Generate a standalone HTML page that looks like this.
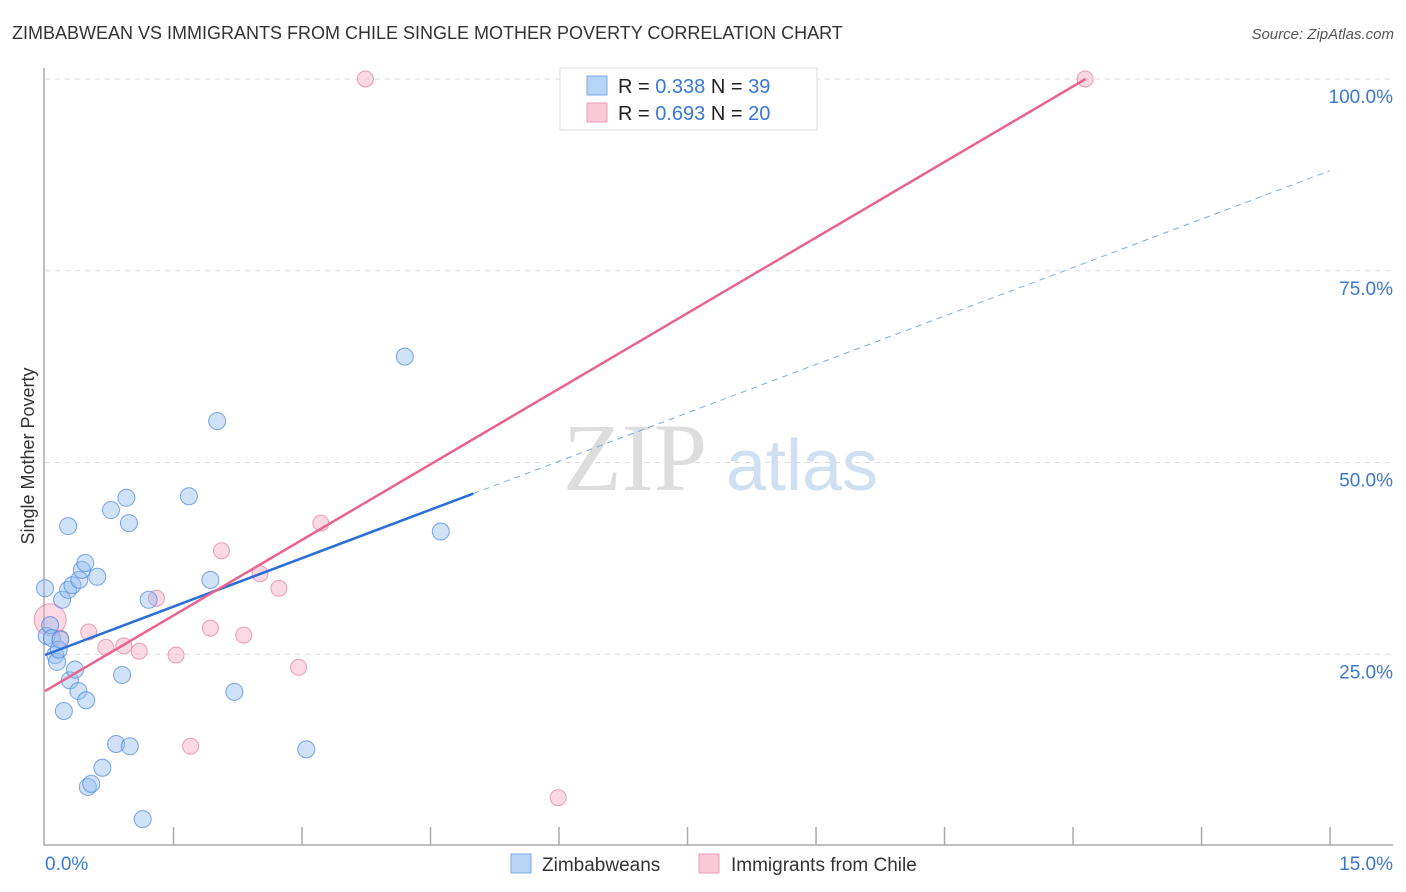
<!DOCTYPE html>
<html><head><meta charset="utf-8"><style>
body{margin:0;background:#fff;font-family:"Liberation Sans",sans-serif}
svg{display:block}
</style></head><body>
<svg id="chart" width="1406" height="892" xmlns="http://www.w3.org/2000/svg">
<text x="12" y="39" font-size="18" fill="#333">ZIMBABWEAN VS IMMIGRANTS FROM CHILE SINGLE MOTHER POVERTY CORRELATION CHART</text>
<text x="1394" y="39" font-size="15" fill="#555" font-style="italic" text-anchor="end">Source: ZipAtlas.com</text>
<g>
<text x="635" y="490" font-size="96" font-family="Liberation Serif,serif" fill="#ddd" text-anchor="middle">ZIP</text>
<text x="802" y="490" font-size="72" fill="#cfe0f3" text-anchor="middle">atlas</text>
</g>
<g id="grid"></g>
<g id="axes"></g>
<g id="marks"></g>
<text transform="translate(34,456) rotate(-90)" font-size="18" fill="#333" text-anchor="middle">Single Mother Poverty</text>
<g>
<rect x="560" y="68" width="257" height="62" fill="#fff" stroke="#ddd"/>
<rect x="587" y="76" width="20" height="19" fill="#b8d4f5" stroke="#7aaae6"/>
<rect x="587" y="103" width="20" height="19" fill="#f9c9d8" stroke="#ec9ab5"/>
<text x="618" y="93" font-size="20" fill="#222">R = <tspan fill="#3a78d4">0.338</tspan>   N = <tspan fill="#3a78d4">39</tspan></text>
<text x="618" y="120" font-size="20" fill="#222">R = <tspan fill="#3a78d4">0.693</tspan>   N = <tspan fill="#3a78d4">20</tspan></text>
</g>
<g>
<rect x="511" y="854" width="20" height="19" fill="#b8d4f5" stroke="#7aaae6"/>
<text x="542" y="871" font-size="19" fill="#333">Zimbabweans</text>
<rect x="699" y="854" width="20" height="19" fill="#f9c9d8" stroke="#ec9ab5"/>
<text x="731" y="871" font-size="19" fill="#333">Immigrants from Chile</text>
</g>
</svg>
<script>
const blueX=[0,0.02,0.06,0.08,0.12,0.14,0.16,0.2,0.22,0.27,0.27,0.29,0.32,0.35,0.4,0.39,0.43,0.47,0.48,0.61,0.5,0.54,0.67,0.77,0.83,0.9,0.95,0.98,0.99,1.14,1.21,1.68,1.93,2.01,2.21,3.05,4.2,4.62,0.18];
const blueY=[33.6,27.4,28.8,27.1,24.9,24.0,25.6,32.1,17.6,41.7,33.4,21.6,34.0,23.0,34.7,20.2,36.0,36.9,19.0,35.1,7.7,8.1,10.2,43.8,13.3,22.3,45.4,42.1,13.0,3.5,32.1,45.6,34.7,55.4,20.1,12.6,63.8,41.0,26.9];
const pinkX=[0.06,0.18,0.51,0.71,0.92,1.1,1.3,1.53,1.7,1.93,2.06,2.32,2.51,2.73,2.96,3.22,3.74,5.99,7.96,12.14];
const pinkY=[29.5,27.1,27.9,25.9,26.1,25.4,32.3,24.9,13.0,28.4,38.5,27.5,35.5,33.6,23.3,42.1,100,6.3,100,100];
const blueTrend=[24.9,4.21,5.0]; // intercept, slope, solid end x
const pinkTrend=[20.2,6.57];
const yTicks=[25,50,75,100];
const yTickLabels=["25.0%","50.0%","75.0%","100.0%"];
const xTicks=[0,1.5,3,4.5,6,7.5,9,10.5,12,13.5,15];
const NS="http://www.w3.org/2000/svg";
const sx=v=>45+v*85.67, sy=v=>846-v*7.67;
function mk(parent,tag,attrs){const e=document.createElementNS(NS,tag);for(const k in attrs)e.setAttribute(k,attrs[k]);document.getElementById(parent).appendChild(e);return e;}
yTicks.forEach((t,i)=>{
 const l=mk('grid','line',{x1:45,x2:1393,y1:sy(t),y2:sy(t),stroke:'#ddd','stroke-dasharray':'5,5'});
 
 
 const tx=mk('grid','text',{x:1393,y:sy(t)+24,'font-size':19,fill:'#3a78d4','text-anchor':'end'});
 tx.textContent=yTickLabels[i];
 
 
});
const ax=mk('axes','path',{d:'M44,68V845H1393',fill:'none',stroke:'#aaa','stroke-width':1.5});


xTicks.forEach(t=>{if(t===0)return;
 const l=mk('axes','line',{x1:sx(t),x2:sx(t),y1:827,y2:845,stroke:'#aaa','stroke-width':1.5});
 
 
});
const xl0=mk('axes','text',{x:45,y:870,'font-size':19,fill:'#3a78d4'});xl0.textContent='0.0%';


const xl1=mk('axes','text',{x:1393,y:870,'font-size':19,fill:'#3a78d4','text-anchor':'end'});xl1.textContent='15.0%';


pinkX.forEach((x,i)=>{
 const c=mk('marks','circle',{cx:sx(x),cy:sy(pinkY[i]),r:i===0?16:8,fill:'rgba(244,160,188,0.4)',stroke:'rgba(230,120,160,0.7)'});
 
 
});
blueX.forEach((x,i)=>{
 const c=mk('marks','circle',{cx:sx(x),cy:sy(blueY[i]),r:8.5,fill:'rgba(150,190,240,0.45)',stroke:'rgba(70,130,220,0.7)'});
 
 
});
const b1=mk('marks','line',{x1:sx(0),y1:sy(blueTrend[0]),x2:sx(blueTrend[2]),y2:sy(blueTrend[0]+blueTrend[1]*blueTrend[2]),stroke:'#2a6fd6','stroke-width':2.5});


const b2=mk('marks','line',{x1:sx(blueTrend[2]),y1:sy(blueTrend[0]+blueTrend[1]*blueTrend[2]),x2:sx(15),y2:sy(blueTrend[0]+blueTrend[1]*15),stroke:'#7aaae6','stroke-width':1,'stroke-dasharray':'6,5'});


const xe=(100-pinkTrend[0])/pinkTrend[1];
const p1=mk('marks','line',{x1:sx(0),y1:sy(pinkTrend[0]),x2:sx(xe),y2:sy(100),stroke:'#e8648f','stroke-width':2.5});


</script>
</body></html>
